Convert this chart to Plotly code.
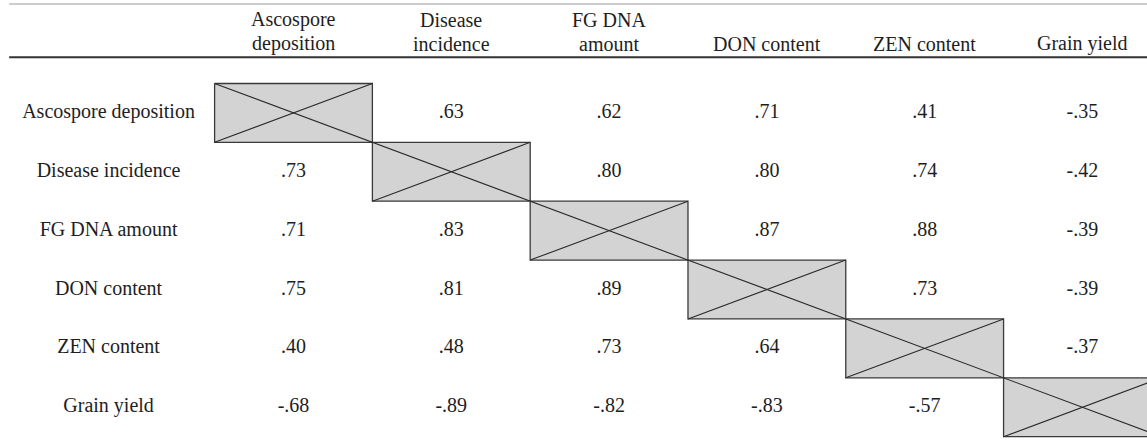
import plotly.graph_objects as go

# ---- data ----
col_labels = ["Ascospore<br>deposition", "Disease<br>incidence", "FG DNA<br>amount",
              "DON content", "ZEN content", "Grain yield"]
row_labels = ["Ascospore deposition", "Disease incidence", "FG DNA amount",
              "DON content", "ZEN content", "Grain yield"]
row_ascospore = [None, 0.63, 0.62, 0.71, 0.41, -0.35]
row_disease = [0.73, None, 0.80, 0.80, 0.74, -0.42]
row_fgdna = [0.71, 0.83, None, 0.87, 0.88, -0.39]
row_don = [0.75, 0.81, 0.89, None, 0.73, -0.39]
row_zen = [0.40, 0.48, 0.73, 0.64, None, -0.37]
row_yield = [-0.68, -0.89, -0.82, -0.83, -0.57, None]
matrix = [row_ascospore, row_disease, row_fgdna, row_don, row_zen, row_yield]

FONT = "Liberation Serif, Times New Roman, DejaVu Serif, serif"
TXT = "#1e1e1e"
n = len(row_labels)


def fmt(v):
    s = f"{v:.2f}"
    return s.replace("0.", ".", 1)


fig = go.Figure()

# diagonal grey boxes with crosses
bx, by = [], []
ax_, ay_ = [], []
for i in range(n):
    bx += [i - 0.5, i + 0.5, i + 0.5, i - 0.5, i - 0.5, None]
    by += [i - 0.5, i - 0.5, i + 0.5, i + 0.5, i - 0.5, None]
    ax_ += [i - 0.5, i + 0.5, None]
    ay_ += [i + 0.5, i - 0.5, None]
fig.add_trace(go.Scatter(x=bx, y=by, mode="lines", fill="toself",
                         fillcolor="#d3d3d3", line=dict(color="#3a3a3a", width=1.3),
                         hoverinfo="skip", showlegend=False))
# main diagonal line (continuous)
fig.add_trace(go.Scatter(x=[-0.5, n - 0.5], y=[-0.5, n - 0.5], mode="lines",
                         line=dict(color="#2a2a2a", width=1.1),
                         hoverinfo="skip", showlegend=False))
# anti-diagonals
fig.add_trace(go.Scatter(x=ax_, y=ay_, mode="lines",
                         line=dict(color="#2a2a2a", width=1.1),
                         hoverinfo="skip", showlegend=False))

# cell values
cx, cy, ct = [], [], []
for r, row in enumerate(matrix):
    for c, v in enumerate(row):
        if v is None:
            continue
        cx.append(c)
        cy.append(r)
        ct.append(fmt(v))
fig.add_trace(go.Scatter(x=cx, y=cy, text=ct, mode="text", textposition="middle center",
                         textfont=dict(family=FONT, size=20, color=TXT),
                         hoverinfo="skip", showlegend=False))

# row labels
fig.add_trace(go.Scatter(x=[-1.172] * n, y=list(range(n)), text=row_labels, mode="text",
                         textposition="middle center",
                         textfont=dict(family=FONT, size=20, color=TXT),
                         hoverinfo="skip", showlegend=False))

# column headers (one annotation per line, bottom-aligned)
for c, lab in enumerate(col_labels):
    lines = lab.split("<br>")
    for k, line in enumerate(reversed(lines)):
        fig.add_annotation(x=c, y=-0.955, xref="x", yref="y", text=line, showarrow=False,
                           xanchor="center", yanchor="bottom", yshift=24 * k,
                           font=dict(family=FONT, size=20, color=TXT))

# rules
fig.add_shape(type="line", xref="paper", yref="paper", x0=0.008, x1=1,
              y0=1 - 4 / 443, y1=1 - 4 / 443, line=dict(color="#9a9a9a", width=1.2))
fig.add_shape(type="line", xref="paper", yref="paper", x0=0.008, x1=1,
              y0=1 - 57.3 / 443, y1=1 - 57.3 / 443, line=dict(color="#333333", width=2))

fig.update_xaxes(range=[-1.860, 5.409], visible=False, fixedrange=True)
fig.update_yaxes(range=[5.607, -1.918], visible=False, fixedrange=True)
fig.update_layout(width=1147, height=443, autosize=False,
                  margin=dict(l=0, r=0, t=0, b=0),
                  font=dict(family=FONT),
                  plot_bgcolor="white", paper_bgcolor="white")

fig.write_html("out.html", config={"displayModeBar": False},
               post_script="document.body.style.margin='0px';"
                           "document.body.style.overflow='hidden';")
